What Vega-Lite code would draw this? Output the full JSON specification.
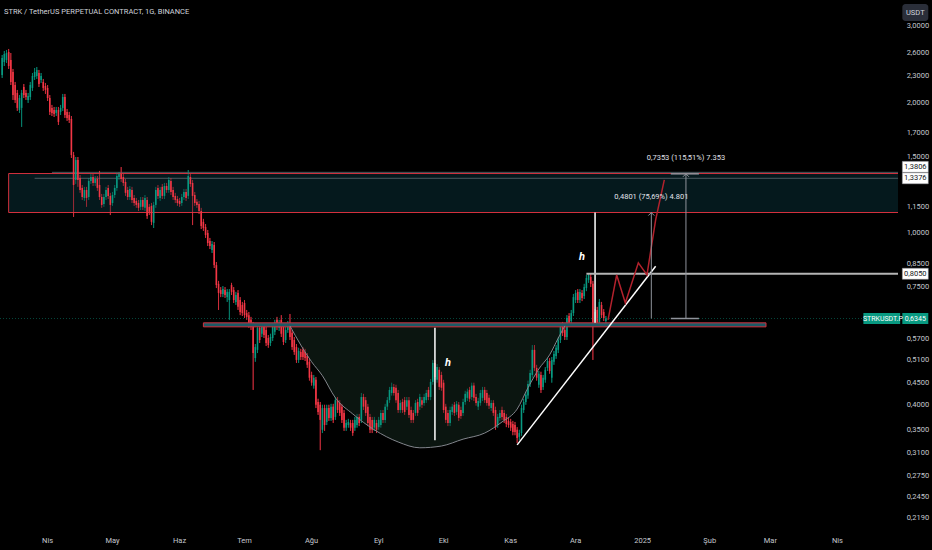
{
"$schema":"https://vega.github.io/schema/vega-lite/v6.json",
"width":898,"height":530,
"autosize":{"type":"none"},
"padding":{"left":0,"top":0,"right":34,"bottom":20},
"background":"#000000",
"title":{"text":"STRK / TetherUS PERPETUAL CONTRACT, 1G, BINANCE","anchor":"start","frame":"group","offset":0,"dx":4,"dy":15,"fontSize":7.5,"fontWeight":"normal","color":"#d1d4dc","font":"Roboto"},
"config":{"view":{"stroke":null},"font":"Roboto","axis":{"grid":false,"domain":false,"ticks":false,"labelFont":"Roboto","labelFontSize":7.5,"labelColor":"#c4c7ce"}},
"datasets":{
"candles":[
{"d":"2024-03-11","o":2.317,"h":2.577,"l":2.281,"c":2.537},
{"d":"2024-03-12","o":2.483,"h":2.633,"l":2.431,"c":2.591},
{"d":"2024-03-13","o":2.510,"h":2.647,"l":2.470,"c":2.605},
{"d":"2024-03-14","o":2.619,"h":2.661,"l":2.393,"c":2.431},
{"d":"2024-03-15","o":2.510,"h":2.605,"l":2.197,"c":2.233},
{"d":"2024-03-16","o":2.355,"h":2.393,"l":2.029,"c":2.083},
{"d":"2024-03-17","o":2.197,"h":2.233,"l":1.997,"c":2.029},
{"d":"2024-03-18","o":2.106,"h":2.140,"l":1.914,"c":1.945},
{"d":"2024-03-19","o":1.924,"h":2.083,"l":1.894,"c":2.050},
{"d":"2024-03-20","o":1.945,"h":2.140,"l":1.758,"c":2.106},
{"d":"2024-03-21","o":2.174,"h":2.209,"l":2.050,"c":2.083},
{"d":"2024-03-22","o":2.106,"h":2.140,"l":2.029,"c":2.061},
{"d":"2024-03-23","o":2.029,"h":2.106,"l":1.997,"c":2.072},
{"d":"2024-03-24","o":2.061,"h":2.233,"l":2.029,"c":2.197},
{"d":"2024-03-25","o":2.163,"h":2.342,"l":2.129,"c":2.305},
{"d":"2024-03-26","o":2.293,"h":2.405,"l":2.257,"c":2.355},
{"d":"2024-03-27","o":2.305,"h":2.418,"l":2.269,"c":2.380},
{"d":"2024-03-28","o":2.342,"h":2.380,"l":2.174,"c":2.209},
{"d":"2024-03-29","o":2.257,"h":2.342,"l":2.221,"c":2.305},
{"d":"2024-03-30","o":2.233,"h":2.269,"l":2.129,"c":2.163},
{"d":"2024-03-31","o":2.186,"h":2.221,"l":2.095,"c":2.140},
{"d":"2024-04-01","o":2.163,"h":2.197,"l":2.018,"c":2.050},
{"d":"2024-04-02","o":2.050,"h":2.083,"l":1.873,"c":1.904},
{"d":"2024-04-03","o":1.945,"h":1.976,"l":1.863,"c":1.894},
{"d":"2024-04-04","o":1.924,"h":1.955,"l":1.853,"c":1.884},
{"d":"2024-04-05","o":1.894,"h":1.955,"l":1.863,"c":1.924},
{"d":"2024-04-06","o":1.924,"h":1.955,"l":1.776,"c":1.805},
{"d":"2024-04-07","o":1.904,"h":1.976,"l":1.873,"c":1.945},
{"d":"2024-04-08","o":1.945,"h":2.095,"l":1.914,"c":2.061},
{"d":"2024-04-09","o":2.061,"h":2.095,"l":1.844,"c":1.873},
{"d":"2024-04-10","o":1.904,"h":1.934,"l":1.815,"c":1.844},
{"d":"2024-04-11","o":1.873,"h":1.904,"l":1.795,"c":1.824},
{"d":"2024-04-12","o":1.834,"h":1.863,"l":1.490,"c":1.514},
{"d":"2024-04-13","o":1.514,"h":1.539,"l":1.089,"c":1.291},
{"d":"2024-04-14","o":1.326,"h":1.498,"l":1.298,"c":1.474},
{"d":"2024-04-15","o":1.474,"h":1.498,"l":1.278,"c":1.326},
{"d":"2024-04-16","o":1.340,"h":1.361,"l":1.238,"c":1.257},
{"d":"2024-04-17","o":1.271,"h":1.291,"l":1.192,"c":1.211},
{"d":"2024-04-18","o":1.205,"h":1.278,"l":1.186,"c":1.257},
{"d":"2024-04-19","o":1.257,"h":1.278,"l":1.149,"c":1.205},
{"d":"2024-04-20","o":1.211,"h":1.340,"l":1.192,"c":1.319},
{"d":"2024-04-21","o":1.319,"h":1.369,"l":1.298,"c":1.347},
{"d":"2024-04-22","o":1.347,"h":1.369,"l":1.284,"c":1.305},
{"d":"2024-04-23","o":1.305,"h":1.354,"l":1.284,"c":1.333},
{"d":"2024-04-24","o":1.333,"h":1.354,"l":1.251,"c":1.271},
{"d":"2024-04-25","o":1.291,"h":1.391,"l":1.192,"c":1.211},
{"d":"2024-04-26","o":1.211,"h":1.231,"l":1.143,"c":1.161},
{"d":"2024-04-27","o":1.167,"h":1.231,"l":1.149,"c":1.211},
{"d":"2024-04-28","o":1.211,"h":1.278,"l":1.192,"c":1.257},
{"d":"2024-04-29","o":1.271,"h":1.291,"l":1.198,"c":1.218},
{"d":"2024-04-30","o":1.218,"h":1.238,"l":1.100,"c":1.161},
{"d":"2024-05-01","o":1.173,"h":1.244,"l":1.155,"c":1.224},
{"d":"2024-05-02","o":1.224,"h":1.291,"l":1.205,"c":1.271},
{"d":"2024-05-03","o":1.271,"h":1.376,"l":1.251,"c":1.354},
{"d":"2024-05-04","o":1.347,"h":1.383,"l":1.326,"c":1.369},
{"d":"2024-05-05","o":1.369,"h":1.420,"l":1.312,"c":1.333},
{"d":"2024-05-06","o":1.347,"h":1.369,"l":1.284,"c":1.305},
{"d":"2024-05-07","o":1.312,"h":1.333,"l":1.218,"c":1.238},
{"d":"2024-05-08","o":1.257,"h":1.278,"l":1.192,"c":1.211},
{"d":"2024-05-09","o":1.211,"h":1.284,"l":1.192,"c":1.264},
{"d":"2024-05-10","o":1.257,"h":1.278,"l":1.173,"c":1.192},
{"d":"2024-05-11","o":1.205,"h":1.224,"l":1.155,"c":1.173},
{"d":"2024-05-12","o":1.186,"h":1.205,"l":1.143,"c":1.161},
{"d":"2024-05-13","o":1.173,"h":1.192,"l":1.124,"c":1.143},
{"d":"2024-05-14","o":1.149,"h":1.211,"l":1.130,"c":1.192},
{"d":"2024-05-15","o":1.192,"h":1.211,"l":1.130,"c":1.149},
{"d":"2024-05-16","o":1.143,"h":1.224,"l":1.124,"c":1.205},
{"d":"2024-05-17","o":1.192,"h":1.211,"l":1.078,"c":1.095},
{"d":"2024-05-18","o":1.149,"h":1.167,"l":1.100,"c":1.119},
{"d":"2024-05-19","o":1.155,"h":1.173,"l":1.043,"c":1.061},
{"d":"2024-05-20","o":1.055,"h":1.180,"l":1.027,"c":1.161},
{"d":"2024-05-21","o":1.161,"h":1.278,"l":1.143,"c":1.257},
{"d":"2024-05-22","o":1.271,"h":1.291,"l":1.198,"c":1.218},
{"d":"2024-05-23","o":1.205,"h":1.278,"l":1.186,"c":1.257},
{"d":"2024-05-24","o":1.278,"h":1.298,"l":1.198,"c":1.218},
{"d":"2024-05-25","o":1.218,"h":1.305,"l":1.198,"c":1.284},
{"d":"2024-05-26","o":1.284,"h":1.305,"l":1.238,"c":1.257},
{"d":"2024-05-27","o":1.257,"h":1.347,"l":1.238,"c":1.326},
{"d":"2024-05-28","o":1.319,"h":1.340,"l":1.224,"c":1.244},
{"d":"2024-05-29","o":1.257,"h":1.278,"l":1.192,"c":1.211},
{"d":"2024-05-30","o":1.218,"h":1.238,"l":1.173,"c":1.192},
{"d":"2024-05-31","o":1.198,"h":1.218,"l":1.155,"c":1.173},
{"d":"2024-06-01","o":1.186,"h":1.205,"l":1.149,"c":1.167},
{"d":"2024-06-02","o":1.173,"h":1.231,"l":1.155,"c":1.211},
{"d":"2024-06-03","o":1.211,"h":1.264,"l":1.192,"c":1.244},
{"d":"2024-06-04","o":1.244,"h":1.264,"l":1.186,"c":1.205},
{"d":"2024-06-05","o":1.218,"h":1.398,"l":1.198,"c":1.354},
{"d":"2024-06-06","o":1.347,"h":1.369,"l":1.278,"c":1.298},
{"d":"2024-06-07","o":1.305,"h":1.326,"l":1.043,"c":1.218},
{"d":"2024-06-08","o":1.224,"h":1.244,"l":1.155,"c":1.173},
{"d":"2024-06-09","o":1.180,"h":1.198,"l":1.143,"c":1.161},
{"d":"2024-06-10","o":1.167,"h":1.186,"l":1.107,"c":1.124},
{"d":"2024-06-11","o":1.124,"h":1.143,"l":1.021,"c":1.038},
{"d":"2024-06-12","o":1.061,"h":1.078,"l":1.011,"c":1.027},
{"d":"2024-06-13","o":1.032,"h":1.049,"l":0.974,"c":0.989},
{"d":"2024-06-14","o":1.000,"h":1.016,"l":0.933,"c":0.948},
{"d":"2024-06-15","o":0.958,"h":0.974,"l":0.918,"c":0.933},
{"d":"2024-06-16","o":0.914,"h":0.958,"l":0.899,"c":0.943},
{"d":"2024-06-17","o":0.938,"h":0.953,"l":0.830,"c":0.843},
{"d":"2024-06-18","o":0.843,"h":0.857,"l":0.746,"c":0.758},
{"d":"2024-06-19","o":0.763,"h":0.775,"l":0.664,"c":0.727},
{"d":"2024-06-20","o":0.738,"h":0.750,"l":0.711,"c":0.723},
{"d":"2024-06-21","o":0.723,"h":0.754,"l":0.711,"c":0.742},
{"d":"2024-06-22","o":0.738,"h":0.750,"l":0.708,"c":0.719},
{"d":"2024-06-23","o":0.711,"h":0.742,"l":0.693,"c":0.731},
{"d":"2024-06-24","o":0.700,"h":0.742,"l":0.630,"c":0.731},
{"d":"2024-06-25","o":0.758,"h":0.767,"l":0.719,"c":0.731},
{"d":"2024-06-26","o":0.738,"h":0.750,"l":0.689,"c":0.700},
{"d":"2024-06-27","o":0.693,"h":0.731,"l":0.682,"c":0.719},
{"d":"2024-06-28","o":0.727,"h":0.738,"l":0.664,"c":0.675},
{"d":"2024-06-29","o":0.700,"h":0.711,"l":0.646,"c":0.657},
{"d":"2024-06-30","o":0.682,"h":0.693,"l":0.643,"c":0.653},
{"d":"2024-07-01","o":0.689,"h":0.700,"l":0.636,"c":0.646},
{"d":"2024-07-02","o":0.653,"h":0.664,"l":0.630,"c":0.640},
{"d":"2024-07-03","o":0.646,"h":0.657,"l":0.604,"c":0.613},
{"d":"2024-07-04","o":0.630,"h":0.640,"l":0.597,"c":0.607},
{"d":"2024-07-05","o":0.613,"h":0.623,"l":0.434,"c":0.528},
{"d":"2024-07-06","o":0.514,"h":0.554,"l":0.504,"c":0.545},
{"d":"2024-07-07","o":0.537,"h":0.613,"l":0.528,"c":0.604},
{"d":"2024-07-08","o":0.604,"h":0.613,"l":0.557,"c":0.566},
{"d":"2024-07-09","o":0.585,"h":0.616,"l":0.575,"c":0.607},
{"d":"2024-07-10","o":0.607,"h":0.616,"l":0.572,"c":0.581},
{"d":"2024-07-11","o":0.597,"h":0.607,"l":0.548,"c":0.557},
{"d":"2024-07-12","o":0.572,"h":0.581,"l":0.543,"c":0.551},
{"d":"2024-07-13","o":0.557,"h":0.585,"l":0.548,"c":0.575},
{"d":"2024-07-14","o":0.572,"h":0.616,"l":0.563,"c":0.607},
{"d":"2024-07-15","o":0.591,"h":0.630,"l":0.581,"c":0.620},
{"d":"2024-07-16","o":0.630,"h":0.640,"l":0.597,"c":0.607},
{"d":"2024-07-17","o":0.604,"h":0.630,"l":0.594,"c":0.620},
{"d":"2024-07-18","o":0.630,"h":0.646,"l":0.575,"c":0.585},
{"d":"2024-07-19","o":0.607,"h":0.616,"l":0.551,"c":0.560},
{"d":"2024-07-20","o":0.566,"h":0.607,"l":0.557,"c":0.597},
{"d":"2024-07-21","o":0.597,"h":0.626,"l":0.588,"c":0.616},
{"d":"2024-07-22","o":0.620,"h":0.650,"l":0.566,"c":0.575},
{"d":"2024-07-23","o":0.588,"h":0.597,"l":0.537,"c":0.545},
{"d":"2024-07-24","o":0.566,"h":0.575,"l":0.523,"c":0.531},
{"d":"2024-07-25","o":0.545,"h":0.554,"l":0.501,"c":0.509},
{"d":"2024-07-26","o":0.509,"h":0.543,"l":0.501,"c":0.534},
{"d":"2024-07-27","o":0.531,"h":0.540,"l":0.509,"c":0.517},
{"d":"2024-07-28","o":0.537,"h":0.545,"l":0.509,"c":0.517},
{"d":"2024-07-29","o":0.531,"h":0.540,"l":0.506,"c":0.514},
{"d":"2024-07-30","o":0.520,"h":0.528,"l":0.488,"c":0.496},
{"d":"2024-07-31","o":0.504,"h":0.512,"l":0.456,"c":0.463},
{"d":"2024-08-01","o":0.470,"h":0.478,"l":0.444,"c":0.451},
{"d":"2024-08-02","o":0.444,"h":0.470,"l":0.437,"c":0.463},
{"d":"2024-08-03","o":0.458,"h":0.465,"l":0.394,"c":0.401},
{"d":"2024-08-04","o":0.407,"h":0.414,"l":0.380,"c":0.386},
{"d":"2024-08-05","o":0.401,"h":0.407,"l":0.315,"c":0.370},
{"d":"2024-08-06","o":0.351,"h":0.401,"l":0.345,"c":0.394},
{"d":"2024-08-07","o":0.394,"h":0.401,"l":0.349,"c":0.360},
{"d":"2024-08-08","o":0.366,"h":0.401,"l":0.360,"c":0.394},
{"d":"2024-08-09","o":0.394,"h":0.401,"l":0.368,"c":0.374},
{"d":"2024-08-10","o":0.374,"h":0.403,"l":0.368,"c":0.397},
{"d":"2024-08-11","o":0.397,"h":0.403,"l":0.364,"c":0.370},
{"d":"2024-08-12","o":0.376,"h":0.418,"l":0.370,"c":0.411},
{"d":"2024-08-13","o":0.411,"h":0.418,"l":0.384,"c":0.390},
{"d":"2024-08-14","o":0.405,"h":0.411,"l":0.378,"c":0.384},
{"d":"2024-08-15","o":0.397,"h":0.403,"l":0.364,"c":0.370},
{"d":"2024-08-16","o":0.384,"h":0.390,"l":0.349,"c":0.355},
{"d":"2024-08-17","o":0.355,"h":0.370,"l":0.349,"c":0.364},
{"d":"2024-08-18","o":0.360,"h":0.372,"l":0.355,"c":0.366},
{"d":"2024-08-19","o":0.364,"h":0.370,"l":0.349,"c":0.355},
{"d":"2024-08-20","o":0.364,"h":0.370,"l":0.340,"c":0.345},
{"d":"2024-08-21","o":0.355,"h":0.376,"l":0.349,"c":0.370},
{"d":"2024-08-22","o":0.360,"h":0.382,"l":0.355,"c":0.376},
{"d":"2024-08-23","o":0.376,"h":0.382,"l":0.358,"c":0.364},
{"d":"2024-08-24","o":0.370,"h":0.427,"l":0.364,"c":0.418},
{"d":"2024-08-25","o":0.418,"h":0.425,"l":0.390,"c":0.397},
{"d":"2024-08-26","o":0.411,"h":0.418,"l":0.378,"c":0.384},
{"d":"2024-08-27","o":0.397,"h":0.403,"l":0.358,"c":0.364},
{"d":"2024-08-28","o":0.376,"h":0.382,"l":0.345,"c":0.351},
{"d":"2024-08-29","o":0.370,"h":0.376,"l":0.345,"c":0.351},
{"d":"2024-08-30","o":0.355,"h":0.376,"l":0.349,"c":0.370},
{"d":"2024-08-31","o":0.364,"h":0.370,"l":0.345,"c":0.351},
{"d":"2024-09-01","o":0.356,"h":0.376,"l":0.351,"c":0.370},
{"d":"2024-09-02","o":0.360,"h":0.390,"l":0.355,"c":0.384},
{"d":"2024-09-03","o":0.384,"h":0.390,"l":0.364,"c":0.370},
{"d":"2024-09-04","o":0.370,"h":0.403,"l":0.364,"c":0.397},
{"d":"2024-09-05","o":0.397,"h":0.418,"l":0.390,"c":0.411},
{"d":"2024-09-06","o":0.411,"h":0.441,"l":0.405,"c":0.434},
{"d":"2024-09-07","o":0.427,"h":0.451,"l":0.421,"c":0.441},
{"d":"2024-09-08","o":0.441,"h":0.448,"l":0.421,"c":0.427},
{"d":"2024-09-09","o":0.439,"h":0.446,"l":0.405,"c":0.411},
{"d":"2024-09-10","o":0.427,"h":0.434,"l":0.384,"c":0.390},
{"d":"2024-09-11","o":0.390,"h":0.411,"l":0.384,"c":0.405},
{"d":"2024-09-12","o":0.407,"h":0.414,"l":0.384,"c":0.390},
{"d":"2024-09-13","o":0.411,"h":0.418,"l":0.380,"c":0.386},
{"d":"2024-09-14","o":0.397,"h":0.418,"l":0.390,"c":0.411},
{"d":"2024-09-15","o":0.411,"h":0.418,"l":0.374,"c":0.380},
{"d":"2024-09-16","o":0.390,"h":0.397,"l":0.364,"c":0.370},
{"d":"2024-09-17","o":0.384,"h":0.390,"l":0.364,"c":0.370},
{"d":"2024-09-18","o":0.384,"h":0.411,"l":0.378,"c":0.405},
{"d":"2024-09-19","o":0.407,"h":0.414,"l":0.378,"c":0.384},
{"d":"2024-09-20","o":0.397,"h":0.425,"l":0.390,"c":0.418},
{"d":"2024-09-21","o":0.411,"h":0.418,"l":0.394,"c":0.401},
{"d":"2024-09-22","o":0.405,"h":0.425,"l":0.399,"c":0.418},
{"d":"2024-09-23","o":0.411,"h":0.434,"l":0.405,"c":0.427},
{"d":"2024-09-24","o":0.434,"h":0.441,"l":0.411,"c":0.418},
{"d":"2024-09-25","o":0.418,"h":0.460,"l":0.411,"c":0.453},
{"d":"2024-09-26","o":0.453,"h":0.509,"l":0.446,"c":0.501},
{"d":"2024-09-27","o":0.501,"h":0.509,"l":0.458,"c":0.465},
{"d":"2024-09-28","o":0.458,"h":0.498,"l":0.451,"c":0.490},
{"d":"2024-09-29","o":0.483,"h":0.490,"l":0.434,"c":0.441},
{"d":"2024-09-30","o":0.470,"h":0.478,"l":0.432,"c":0.439},
{"d":"2024-10-01","o":0.451,"h":0.458,"l":0.384,"c":0.390},
{"d":"2024-10-02","o":0.397,"h":0.403,"l":0.364,"c":0.370},
{"d":"2024-10-03","o":0.384,"h":0.390,"l":0.358,"c":0.364},
{"d":"2024-10-04","o":0.364,"h":0.397,"l":0.358,"c":0.390},
{"d":"2024-10-05","o":0.386,"h":0.403,"l":0.380,"c":0.397},
{"d":"2024-10-06","o":0.401,"h":0.407,"l":0.378,"c":0.384},
{"d":"2024-10-07","o":0.386,"h":0.409,"l":0.380,"c":0.403},
{"d":"2024-10-08","o":0.401,"h":0.407,"l":0.368,"c":0.374},
{"d":"2024-10-09","o":0.390,"h":0.397,"l":0.372,"c":0.378},
{"d":"2024-10-10","o":0.384,"h":0.414,"l":0.378,"c":0.407},
{"d":"2024-10-11","o":0.407,"h":0.432,"l":0.401,"c":0.425},
{"d":"2024-10-12","o":0.416,"h":0.437,"l":0.409,"c":0.430},
{"d":"2024-10-13","o":0.434,"h":0.441,"l":0.407,"c":0.414},
{"d":"2024-10-14","o":0.418,"h":0.451,"l":0.411,"c":0.444},
{"d":"2024-10-15","o":0.444,"h":0.451,"l":0.409,"c":0.416},
{"d":"2024-10-16","o":0.418,"h":0.425,"l":0.399,"c":0.405},
{"d":"2024-10-17","o":0.397,"h":0.416,"l":0.390,"c":0.409},
{"d":"2024-10-18","o":0.405,"h":0.434,"l":0.399,"c":0.427},
{"d":"2024-10-19","o":0.416,"h":0.441,"l":0.409,"c":0.434},
{"d":"2024-10-20","o":0.434,"h":0.441,"l":0.405,"c":0.411},
{"d":"2024-10-21","o":0.427,"h":0.434,"l":0.399,"c":0.405},
{"d":"2024-10-22","o":0.416,"h":0.423,"l":0.392,"c":0.399},
{"d":"2024-10-23","o":0.394,"h":0.411,"l":0.388,"c":0.405},
{"d":"2024-10-24","o":0.405,"h":0.411,"l":0.378,"c":0.384},
{"d":"2024-10-25","o":0.390,"h":0.397,"l":0.351,"c":0.356},
{"d":"2024-10-26","o":0.360,"h":0.382,"l":0.355,"c":0.376},
{"d":"2024-10-27","o":0.374,"h":0.390,"l":0.368,"c":0.384},
{"d":"2024-10-28","o":0.390,"h":0.397,"l":0.370,"c":0.376},
{"d":"2024-10-29","o":0.384,"h":0.390,"l":0.364,"c":0.370},
{"d":"2024-10-30","o":0.376,"h":0.382,"l":0.356,"c":0.362},
{"d":"2024-10-31","o":0.368,"h":0.374,"l":0.355,"c":0.360},
{"d":"2024-11-01","o":0.366,"h":0.372,"l":0.349,"c":0.355},
{"d":"2024-11-02","o":0.362,"h":0.368,"l":0.341,"c":0.347},
{"d":"2024-11-03","o":0.360,"h":0.366,"l":0.341,"c":0.347},
{"d":"2024-11-04","o":0.351,"h":0.356,"l":0.327,"c":0.336},
{"d":"2024-11-05","o":0.338,"h":0.351,"l":0.332,"c":0.345},
{"d":"2024-11-06","o":0.345,"h":0.401,"l":0.340,"c":0.394},
{"d":"2024-11-07","o":0.390,"h":0.414,"l":0.384,"c":0.407},
{"d":"2024-11-08","o":0.407,"h":0.430,"l":0.401,"c":0.423},
{"d":"2024-11-09","o":0.421,"h":0.456,"l":0.414,"c":0.448},
{"d":"2024-11-10","o":0.448,"h":0.483,"l":0.441,"c":0.475},
{"d":"2024-11-11","o":0.470,"h":0.551,"l":0.463,"c":0.537},
{"d":"2024-11-12","o":0.537,"h":0.551,"l":0.480,"c":0.488},
{"d":"2024-11-13","o":0.488,"h":0.496,"l":0.456,"c":0.463},
{"d":"2024-11-14","o":0.446,"h":0.480,"l":0.439,"c":0.473},
{"d":"2024-11-15","o":0.470,"h":0.478,"l":0.427,"c":0.434},
{"d":"2024-11-16","o":0.441,"h":0.470,"l":0.434,"c":0.463},
{"d":"2024-11-17","o":0.458,"h":0.490,"l":0.451,"c":0.483},
{"d":"2024-11-18","o":0.488,"h":0.514,"l":0.480,"c":0.506},
{"d":"2024-11-19","o":0.506,"h":0.514,"l":0.473,"c":0.480},
{"d":"2024-11-20","o":0.463,"h":0.517,"l":0.451,"c":0.509},
{"d":"2024-11-21","o":0.504,"h":0.534,"l":0.496,"c":0.525},
{"d":"2024-11-22","o":0.520,"h":0.551,"l":0.512,"c":0.543},
{"d":"2024-11-23","o":0.537,"h":0.575,"l":0.528,"c":0.566},
{"d":"2024-11-24","o":0.566,"h":0.616,"l":0.557,"c":0.607},
{"d":"2024-11-25","o":0.613,"h":0.623,"l":0.578,"c":0.588},
{"d":"2024-11-26","o":0.597,"h":0.607,"l":0.566,"c":0.575},
{"d":"2024-11-27","o":0.575,"h":0.646,"l":0.566,"c":0.636},
{"d":"2024-11-28","o":0.643,"h":0.653,"l":0.610,"c":0.620},
{"d":"2024-11-29","o":0.626,"h":0.664,"l":0.616,"c":0.653},
{"d":"2024-11-30","o":0.653,"h":0.723,"l":0.643,"c":0.711},
{"d":"2024-12-01","o":0.700,"h":0.738,"l":0.689,"c":0.727},
{"d":"2024-12-02","o":0.731,"h":0.742,"l":0.689,"c":0.700},
{"d":"2024-12-03","o":0.700,"h":0.742,"l":0.689,"c":0.731},
{"d":"2024-12-04","o":0.727,"h":0.738,"l":0.696,"c":0.708},
{"d":"2024-12-05","o":0.715,"h":0.763,"l":0.704,"c":0.750},
{"d":"2024-12-06","o":0.746,"h":0.800,"l":0.734,"c":0.787},
{"d":"2024-12-07","o":0.779,"h":0.808,"l":0.767,"c":0.800},
{"d":"2024-12-08","o":0.791,"h":0.804,"l":0.750,"c":0.763},
{"d":"2024-12-09","o":0.763,"h":0.775,"l":0.509,"c":0.613},
{"d":"2024-12-10","o":0.620,"h":0.667,"l":0.610,"c":0.657},
{"d":"2024-12-11","o":0.664,"h":0.675,"l":0.610,"c":0.620},
{"d":"2024-12-12","o":0.623,"h":0.704,"l":0.613,"c":0.693},
{"d":"2024-12-13","o":0.682,"h":0.693,"l":0.636,"c":0.646},
{"d":"2024-12-14","o":0.657,"h":0.667,"l":0.626,"c":0.636},
{"d":"2024-12-15","o":0.626,"h":0.643,"l":0.620,"c":0.6345}
],
"arc":[
{"d":"2024-07-22","p":0.610},{"d":"2024-07-27","p":0.551},{"d":"2024-08-01","p":0.504},{"d":"2024-08-06","p":0.468},
{"d":"2024-08-12","p":0.416},{"d":"2024-08-20","p":0.382},{"d":"2024-08-30","p":0.351},{"d":"2024-09-10","p":0.329},
{"d":"2024-09-20","p":0.319},{"d":"2024-09-30","p":0.322},{"d":"2024-10-10","p":0.334},{"d":"2024-10-20","p":0.345},
{"d":"2024-10-28","p":0.366},{"d":"2024-11-04","p":0.392},{"d":"2024-11-09","p":0.439},{"d":"2024-11-14","p":0.485},
{"d":"2024-11-19","p":0.523},{"d":"2024-11-23","p":0.572},{"d":"2024-11-26","p":0.610}
],
"months":[
{"m":"2024-04-01","s":"Nis"},{"m":"2024-05-01","s":"May"},{"m":"2024-06-01","s":"Haz"},{"m":"2024-07-01","s":"Tem"},
{"m":"2024-08-01","s":"Ağu"},{"m":"2024-09-01","s":"Eyl"},{"m":"2024-10-01","s":"Eki"},{"m":"2024-11-01","s":"Kas"},
{"m":"2024-12-01","s":"Ara"},{"m":"2025-01-01","s":"2025"},{"m":"2025-02-01","s":"Şub"},{"m":"2025-03-01","s":"Mar"},{"m":"2025-04-01","s":"Nis"}
],
"ylabels":[
{"p":3,"s":"3,0000"},{"p":2.6,"s":"2,6000"},{"p":2.3,"s":"2,3000"},{"p":2,"s":"2,0000"},{"p":1.7,"s":"1,7000"},{"p":1.5,"s":"1,5000"},
{"p":1.15,"s":"1,1500"},{"p":1,"s":"1,0000"},{"p":0.85,"s":"0,8500"},{"p":0.75,"s":"0,7500"},{"p":0.57,"s":"0,5700"},{"p":0.51,"s":"0,5100"},
{"p":0.45,"s":"0,4500"},{"p":0.4,"s":"0,4000"},{"p":0.35,"s":"0,3500"},{"p":0.31,"s":"0,3100"},{"p":0.275,"s":"0,2750"},{"p":0.245,"s":"0,2450"},{"p":0.219,"s":"0,2190"}
]
},
"layer":[
{"data":{"name":"candles"},"mark":{"type":"rule","strokeWidth":0.8,"opacity":0.8},
 "encoding":{
  "x":{"field":"d","type":"temporal","axis":null,
   "scale":{"type":"utc","domain":[{"year":2024,"month":3,"date":10,"utc":true},{"year":2025,"month":4,"date":29,"utc":true}]}},
  "y":{"field":"l","type":"quantitative","axis":null,
   "scale":{"type":"log","domain":[0.206,3.453],"nice":false,"zero":false}},
  "y2":{"field":"h"},
  "color":{"condition":{"test":"datum.c >= datum.o","value":"#089981"},"value":"#f23645"}}},
{"data":{"name":"arc"},"mark":{"type":"area","color":"#0b1510","interpolate":"monotone"},
 "encoding":{"x":{"field":"d","type":"temporal","axis":null},"y":{"field":"p","type":"quantitative","axis":null},"y2":{"datum":0.607}}},
{"data":{"values":[{"t0":"2024-03-14","t1":"2025-05-10","lo":1.115,"hi":1.372}]},
 "mark":{"type":"rect","fill":"#05191d","stroke":"#d3303d","strokeWidth":1,"clip":true},
 "encoding":{"x":{"field":"t0","type":"temporal","axis":null},"x2":{"field":"t1"},"y":{"field":"lo","type":"quantitative","axis":null},"y2":{"field":"hi"}}},
{"data":{"values":[{"t0":"2024-04-03","t1":"2025-04-29","p":1.3806},{"t0":"2024-03-26","t1":"2025-04-29","p":1.3376}]},
 "mark":{"type":"rule","color":"#4b5a60","strokeWidth":1},
 "encoding":{"x":{"field":"t0","type":"temporal","axis":null},"x2":{"field":"t1"},"y":{"field":"p","type":"quantitative","axis":null}}},
{"data":{"name":"candles"},"mark":{"type":"rule","strokeWidth":0.8,"opacity":0.8},
 "encoding":{"x":{"field":"d","type":"temporal","axis":null},"y":{"field":"l","type":"quantitative","axis":null},"y2":{"field":"h"},
  "color":{"condition":{"test":"datum.c >= datum.o","value":"#089981"},"value":"#f23645"}}},
{"data":{"name":"candles"},"mark":{"type":"rule","strokeWidth":1.6},
 "encoding":{"x":{"field":"d","type":"temporal","axis":null},"y":{"field":"o","type":"quantitative","axis":null},"y2":{"field":"c"},
  "color":{"condition":{"test":"datum.c >= datum.o","value":"#089981"},"value":"#f23645"}}},
{"data":{"values":[{"t0":"2024-03-10","t1":"2025-04-29","p":0.6345}]},
 "mark":{"type":"rule","color":"#089981","strokeWidth":1,"strokeDash":[1,2],"opacity":0.45},
 "encoding":{"x":{"field":"t0","type":"temporal","axis":null},"x2":{"field":"t1"},"y":{"field":"p","type":"quantitative","axis":null}}},
{"data":{"values":[{"t0":"2024-06-12","t1":"2025-02-27","lo":0.607,"hi":0.620}]},
 "mark":{"type":"rect","fill":"#1b5a66","stroke":"#d3303d","strokeWidth":1},
 "encoding":{"x":{"field":"t0","type":"temporal","axis":null},"x2":{"field":"t1"},"y":{"field":"lo","type":"quantitative","axis":null},"y2":{"field":"hi"}}},
{"data":{"name":"arc"},"mark":{"type":"line","color":"#82858c","strokeWidth":1,"interpolate":"monotone"},
 "encoding":{"x":{"field":"d","type":"temporal","axis":null},"y":{"field":"p","type":"quantitative","axis":null}}},
{"data":{"values":[{"t":"2024-09-27","lo":0.332,"hi":0.604},{"t":"2024-12-10","lo":0.620,"hi":1.115}]},
 "mark":{"type":"rule","color":"#ffffff","strokeWidth":1.5},
 "encoding":{"x":{"field":"t","type":"temporal","axis":null},"y":{"field":"lo","type":"quantitative","axis":null},"y2":{"field":"hi"}}},
{"data":{"values":[{"d":"2024-11-04","p":0.324},{"d":"2025-01-07","p":0.838}]},
 "mark":{"type":"line","color":"#ffffff","strokeWidth":1.5},
 "encoding":{"x":{"field":"d","type":"temporal","axis":null},"y":{"field":"p","type":"quantitative","axis":null}}},
{"data":{"values":[{"t0":"2024-12-06","t1":"2025-04-29","p":0.805}]},
 "mark":{"type":"rule","color":"#b4b4b4","strokeWidth":1.8},
 "encoding":{"x":{"field":"t0","type":"temporal","axis":null},"x2":{"field":"t1"},"y":{"field":"p","type":"quantitative","axis":null}}},
{"data":{"values":[{"d":"2024-12-16","p":0.630},{"d":"2024-12-20","p":0.800},{"d":"2024-12-24","p":0.689},{"d":"2024-12-30","p":0.853},{"d":"2025-01-03","p":0.800},{"d":"2025-01-05","p":0.928},{"d":"2025-01-07","p":1.072},{"d":"2025-01-09","p":1.192},{"d":"2025-01-11","p":1.326}]},
 "mark":{"type":"line","color":"#b3222d","strokeWidth":1.5},
 "encoding":{"x":{"field":"d","type":"temporal","axis":null},"y":{"field":"p","type":"quantitative","axis":null}}},
{"data":{"values":[{"t":"2025-01-05","lo":0.6345,"hi":1.1146},{"t":"2025-01-21","lo":0.6345,"hi":1.3698}]},
 "mark":{"type":"rule","color":"#8f939b","strokeWidth":1},
 "encoding":{"x":{"field":"t","type":"temporal","axis":null},"y":{"field":"lo","type":"quantitative","axis":null},"y2":{"field":"hi"}}},
{"data":{"values":[{"t0":"2025-01-14","t1":"2025-01-27","p":0.6345},{"t0":"2025-01-14","t1":"2025-01-27","p":1.3698}]},
 "mark":{"type":"rule","color":"#8f939b","strokeWidth":1.5},
 "encoding":{"x":{"field":"t0","type":"temporal","axis":null},"x2":{"field":"t1"},"y":{"field":"p","type":"quantitative","axis":null}}},
{"data":{"values":[{"t":"2025-01-05","p":1.1146},{"t":"2025-01-21","p":1.3698}]},
 "mark":{"type":"point","shape":"M-1,1L0,0L1,1","filled":false,"stroke":"#8f939b","strokeWidth":1,"size":36,"opacity":1},
 "encoding":{"x":{"field":"t","type":"temporal","axis":null},"y":{"field":"p","type":"quantitative","axis":null}}},
{"data":{"values":[{"t":"2025-01-05","p":1.211,"s":"0,4801 (75,69%) 4.801"},{"t":"2025-01-21","p":1.49,"s":"0,7353 (115,51%) 7.353"}]},
 "mark":{"type":"text","fontSize":7.5,"color":"#e0e3eb","align":"center","baseline":"middle"},
 "encoding":{"x":{"field":"t","type":"temporal","axis":null},"y":{"field":"p","type":"quantitative","axis":null},"text":{"field":"s"}}},
{"data":{"values":[{"t":"2024-10-03","p":0.50,"s":"h"},{"t":"2024-12-04","p":0.88,"s":"h"}]},
 "mark":{"type":"text","fontSize":11,"fontStyle":"italic","fontWeight":"bold","color":"#ffffff","align":"center","baseline":"middle"},
 "encoding":{"x":{"field":"t","type":"temporal","axis":null},"y":{"field":"p","type":"quantitative","axis":null},"text":{"field":"s"}}},
{"data":{"name":"months"},
 "mark":{"type":"text","fontSize":7.5,"color":"#c4c7ce","align":"center","baseline":"middle"},
 "encoding":{"x":{"field":"m","type":"temporal","axis":null},"y":{"datum":0.194,"type":"quantitative","axis":null},"text":{"field":"s"}}},
{"data":{"name":"ylabels"},
 "mark":{"type":"text","fontSize":7.5,"color":"#c4c7ce","align":"left","baseline":"middle"},
 "encoding":{"x":{"datum":{"year":2025,"month":5,"date":3,"utc":true},"type":"temporal","axis":null},"y":{"field":"p","type":"quantitative","axis":null},"text":{"field":"s"}}},
{"data":{"values":[{"p":1.3376},{"p":0.805}]},
 "mark":{"type":"rect","fill":"#ffffff","stroke":"#8a8d93","strokeWidth":0.5,"yOffset":-5.5,"y2Offset":5.5},
 "encoding":{"x":{"datum":{"year":2025,"month":5,"date":1,"utc":true},"type":"temporal","axis":null},"x2":{"datum":{"year":2025,"month":5,"date":13,"utc":true}},"y":{"field":"p","type":"quantitative","axis":null},"y2":{"field":"p"}}},
{"data":{"values":[{"p":1.3806}]},
 "mark":{"type":"rect","fill":"#ffffff","stroke":"#8a8d93","strokeWidth":0.5,"yOffset":-11,"y2Offset":0},
 "encoding":{"x":{"datum":{"year":2025,"month":5,"date":1,"utc":true},"type":"temporal","axis":null},"x2":{"datum":{"year":2025,"month":5,"date":13,"utc":true}},"y":{"field":"p","type":"quantitative","axis":null},"y2":{"field":"p"}}},
{"data":{"values":[{"p":1.3376,"s":"1,3376"},{"p":0.805,"s":"0,8050"}]},
 "mark":{"type":"text","fontSize":7.5,"color":"#131722","align":"center","baseline":"middle"},
 "encoding":{"x":{"datum":{"year":2025,"month":5,"date":7,"utc":true},"type":"temporal","axis":null},"y":{"field":"p","type":"quantitative","axis":null},"text":{"field":"s"}}},
{"data":{"values":[{"p":1.3806,"s":"1,3806"}]},
 "mark":{"type":"text","fontSize":7.5,"color":"#131722","align":"center","baseline":"middle","dy":-5.5},
 "encoding":{"x":{"datum":{"year":2025,"month":5,"date":7,"utc":true},"type":"temporal","axis":null},"y":{"field":"p","type":"quantitative","axis":null},"text":{"field":"s"}}},
{"data":{"values":[{"t0":"2025-04-13","t1":"2025-04-30","p":0.6345},{"t0":"2025-05-01","t1":"2025-05-13","p":0.6345}]},
 "mark":{"type":"rect","fill":"#089981","yOffset":-5.5,"y2Offset":5.5},
 "encoding":{"x":{"field":"t0","type":"temporal","axis":null},"x2":{"field":"t1"},"y":{"field":"p","type":"quantitative","axis":null},"y2":{"field":"p"}}},
{"data":{"values":[{"t":"2025-04-22","p":0.6345,"s":"STRKUSDT.P"},{"t":"2025-05-07","p":0.6345,"s":"0,6345"}]},
 "mark":{"type":"text","fontSize":7,"color":"#ffffff","align":"center","baseline":"middle"},
 "encoding":{"x":{"field":"t","type":"temporal","axis":null},"y":{"field":"p","type":"quantitative","axis":null},"text":{"field":"s"}}},
{"data":{"values":[{"p":3.23,"s":"USDT"}]},
 "mark":{"type":"rect","fill":"#2a2e39","cornerRadius":3,"yOffset":-8.5,"y2Offset":8.5},
 "encoding":{"x":{"datum":{"year":2025,"month":5,"date":1,"utc":true},"type":"temporal","axis":null},"x2":{"datum":{"year":2025,"month":5,"date":13,"utc":true}},"y":{"field":"p","type":"quantitative","axis":null},"y2":{"field":"p"}}},
{"data":{"values":[{"p":3.23,"s":"USDT"}]},
 "mark":{"type":"text","fontSize":7.5,"color":"#d1d4dc","align":"center","baseline":"middle"},
 "encoding":{"x":{"datum":{"year":2025,"month":5,"date":7,"utc":true},"type":"temporal","axis":null},"y":{"field":"p","type":"quantitative","axis":null},"text":{"field":"s"}}}
]
}
